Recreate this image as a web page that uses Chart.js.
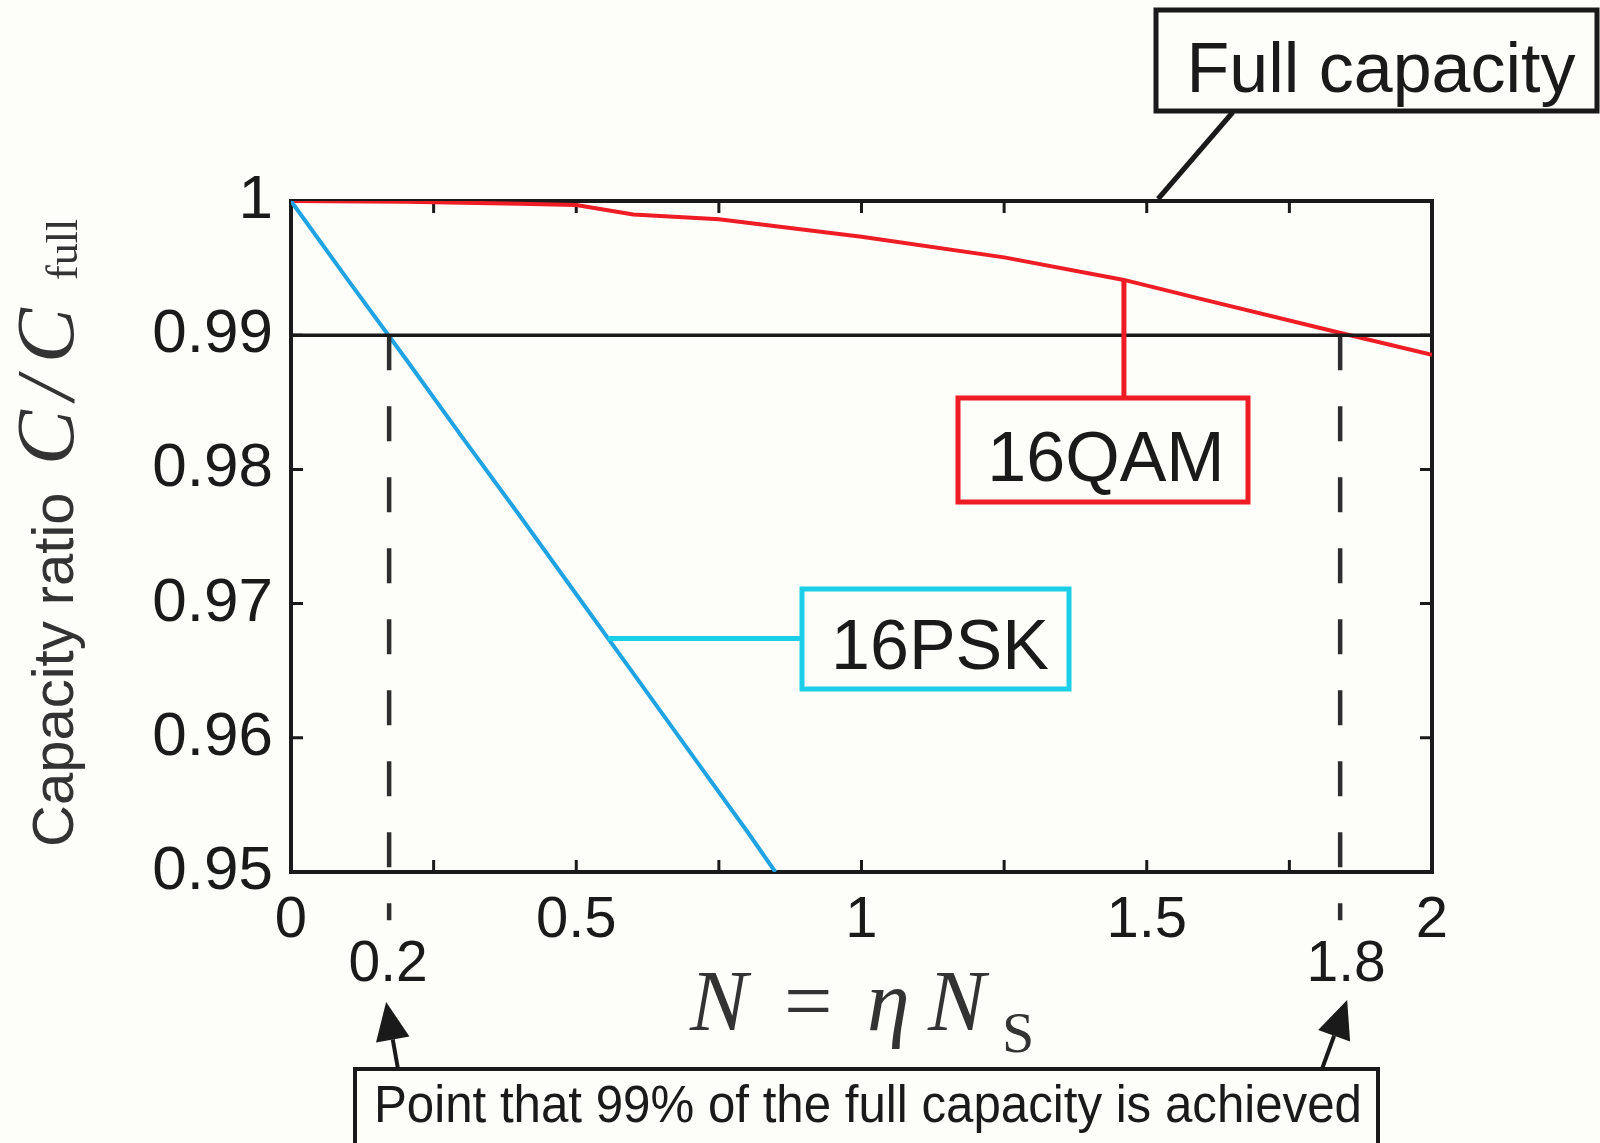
<!DOCTYPE html>
<html>
<head>
<meta charset="utf-8">
<script src="https://cdn.jsdelivr.net/npm/chart.js@4.4.0/dist/chart.umd.min.js"></script>
<style>
  html, body { margin: 0; padding: 0; background: #fdfdf9; }
  #wrap { width: 1600px; height: 1143px; }
</style>
</head>
<body>
<div id="wrap"><canvas id="capChart" width="1600" height="1143"></canvas></div>
<script>
// Tick labels shown on the axes
const xTickLabels = ['0', '0.5', '1', '1.5', '2'];
const yTickLabels = ['0.95', '0.96', '0.97', '0.98', '0.99', '1'];

// 16QAM capacity ratio vs N = eta*Ns
const qamX = [0, 0.2, 0.4, 0.5, 0.6, 0.75, 1.0, 1.25, 1.46, 1.6, 1.84, 2.0];
const qamY = [1.0, 0.99995, 0.9998, 0.9997, 0.9990, 0.99864, 0.99734, 0.9958, 0.99412, 0.99265, 0.99016, 0.98854];

// 16PSK capacity ratio
const pskX = [0, 0.1, 0.2, 0.3, 0.4, 0.5, 0.6, 0.7, 0.8, 0.849];
const pskY = [1.0, 0.9941, 0.9883, 0.9824, 0.9766, 0.9707, 0.9648, 0.9589, 0.9530, 0.95];

// 99% of full capacity and where each curve reaches it
const threshold = 0.99;
const markX = [0.172, 1.839];
const markLabels = ['0.2', '1.8'];
const markBottom = 0.9464;

const SANS = '"Liberation Sans", Arial, sans-serif';
const SERIF = '"Liberation Serif", "Times New Roman", serif';
const RED = '#ee1c24';
const BLUE = '#1fa3e3';
const CYAN = '#1ccfe8';
const INK = '#1a1a1a';

function pts(xs, ys) {
  return xs.map((x, i) => ({ x: x, y: ys[i] }));
}

function fmt(v) {
  return String(+v.toFixed(2));
}

function box(ctx, x, y, w, h, color, lw) {
  ctx.save();
  ctx.strokeStyle = color;
  ctx.lineWidth = lw;
  ctx.fillStyle = '#fdfdf9';
  ctx.fillRect(x, y, w, h);
  ctx.strokeRect(x, y, w, h);
  ctx.restore();
}

function line(ctx, x1, y1, x2, y2, color, lw) {
  ctx.save();
  ctx.strokeStyle = color;
  ctx.lineWidth = lw;
  ctx.beginPath();
  ctx.moveTo(x1, y1);
  ctx.lineTo(x2, y2);
  ctx.stroke();
  ctx.restore();
}

function arrow(ctx, x1, y1, x2, y2) {
  // shaft from (x1,y1) to tip (x2,y2)
  const a = Math.atan2(y2 - y1, x2 - x1);
  const len = 38, half = 17;
  const bx = x2 - len * Math.cos(a), by = y2 - len * Math.sin(a);
  line(ctx, x1, y1, bx, by, INK, 4);
  ctx.save();
  ctx.fillStyle = INK;
  ctx.beginPath();
  ctx.moveTo(x2, y2);
  ctx.lineTo(bx + half * Math.sin(a), by - half * Math.cos(a));
  ctx.lineTo(bx - half * Math.sin(a), by + half * Math.cos(a));
  ctx.closePath();
  ctx.fill();
  ctx.restore();
}

const decor = {
  id: 'decor',
  beforeDraw(chart) {
    const ctx = chart.ctx;
    ctx.save();
    ctx.fillStyle = '#fdfdf9';
    ctx.fillRect(0, 0, chart.width, chart.height);
    ctx.restore();
  },
  beforeDatasetsDraw(chart) {
    const ctx = chart.ctx;
    const a = chart.chartArea;
    const xs = chart.scales.x, ys = chart.scales.y;
    ctx.save();
    ctx.strokeStyle = INK;
    ctx.lineWidth = 4;
    ctx.strokeRect(a.left, a.top, a.right - a.left, a.bottom - a.top);
    ctx.lineWidth = 3;
    ctx.beginPath();
    xs.ticks.forEach(t => {
      const px = xs.getPixelForValue(t.value);
      if (px <= a.left + 1 || px >= a.right - 1) return;
      ctx.moveTo(px, a.bottom); ctx.lineTo(px, a.bottom - 12);
      ctx.moveTo(px, a.top); ctx.lineTo(px, a.top + 12);
    });
    ys.ticks.forEach(t => {
      const py = ys.getPixelForValue(t.value);
      if (py <= a.top + 1 || py >= a.bottom - 1) return;
      ctx.moveTo(a.left, py); ctx.lineTo(a.left + 12, py);
      ctx.moveTo(a.right, py); ctx.lineTo(a.right - 12, py);
    });
    ctx.stroke();
    ctx.restore();
  },
  afterDraw(chart) {
    const ctx = chart.ctx;
    const xs = chart.scales.x, ys = chart.scales.y;

    // labels under the dashed markers
    ctx.save();
    ctx.fillStyle = INK;
    ctx.font = '57px ' + SANS;
    ctx.textAlign = 'center';
    markX.forEach((mx, i) => {
      ctx.fillText(markLabels[i], xs.getPixelForValue(mx) + (i ? 6 : -1), 981);
    });
    ctx.restore();

    // arrows from the bottom note
    arrow(ctx, 398, 1069, xs.getPixelForValue(markX[0]) - 3, 1002);
    arrow(ctx, 1322, 1069, xs.getPixelForValue(markX[1]) + 7, 1000);

    // bottom note box
    box(ctx, 355, 1069, 1023, 90, INK, 4);
    ctx.save();
    ctx.fillStyle = INK;
    ctx.font = '51px ' + SANS;
    const note = 'Point that 99% of the full capacity is achieved';
    const nw = ctx.measureText(note).width;
    ctx.translate(374, 1122);
    ctx.scale(988 / nw, 1);
    ctx.fillText(note, 0, 0);
    ctx.restore();

    // Full capacity callout
    line(ctx, 1233, 112, 1158, 199, INK, 5);
    box(ctx, 1156, 10, 441, 101, INK, 5);
    ctx.save();
    ctx.fillStyle = INK;
    ctx.font = '70px ' + SANS;
    ctx.textAlign = 'center';
    ctx.fillText('Full capacity', 1381, 92);
    ctx.restore();

    // 16QAM callout
    const qx = xs.getPixelForValue(1.46);
    line(ctx, qx, ys.getPixelForValue(0.99412), qx, 400, RED, 5);
    box(ctx, 958, 398, 290, 104, RED, 5);
    ctx.save();
    ctx.fillStyle = INK;
    ctx.font = '70px ' + SANS;
    ctx.textAlign = 'center';
    ctx.fillText('16QAM', 1106, 481);
    ctx.restore();

    // 16PSK callout
    const py = ys.getPixelForValue(0.9674);
    line(ctx, xs.getPixelForValue(0.556), py, 803, py, CYAN, 5);
    box(ctx, 802, 589, 267, 100, CYAN, 5);
    ctx.save();
    ctx.fillStyle = INK;
    ctx.font = '70px ' + SANS;
    ctx.textAlign = 'center';
    ctx.fillText('16PSK', 940, 669);
    ctx.restore();

    // x axis title: N = eta N_S
    ctx.save();
    ctx.fillStyle = '#333';
    ctx.font = 'italic 86px ' + SERIF;
    ctx.fillText('N', 690, 1030);
    ctx.font = '86px ' + SERIF;
    ctx.fillText('=', 784, 1030);
    ctx.font = 'italic 86px ' + SERIF;
    ctx.fillText('\u03B7', 867, 1030);
    ctx.fillText('N', 928, 1030);
    ctx.font = '58px ' + SERIF;
    ctx.fillText('S', 1002, 1052);
    ctx.restore();

    // y axis title: Capacity ratio C/C_full
    ctx.save();
    ctx.fillStyle = '#333';
    ctx.translate(73, 847);
    ctx.rotate(-Math.PI / 2);
    ctx.font = '58px ' + SANS;
    ctx.fillText('Capacity ratio', 0, 0);
    ctx.font = 'italic 82px ' + SERIF;
    ctx.fillText('C', 382, 0);
    ctx.fillText('/', 447, 0);
    ctx.fillText('C', 484, 0);
    ctx.font = '44px ' + SERIF;
    ctx.fillText('full', 567, 4);
    ctx.restore();
  }
};

const lineStyle = { showLine: true, pointRadius: 0, pointHoverRadius: 0, fill: false, tension: 0 };

new Chart(document.getElementById('capChart').getContext('2d'), {
  type: 'scatter',
  data: {
    datasets: [
      Object.assign({ label: 'threshold', data: pts([0, 2], [threshold, threshold]), borderColor: INK, borderWidth: 3.5 }, lineStyle),
      Object.assign({ label: 'mark 0.2', data: pts([markX[0], markX[0]], [threshold, markBottom]), borderColor: '#2e2e2e', borderWidth: 4.5, borderDash: [35, 36], clip: false }, lineStyle),
      Object.assign({ label: 'mark 1.8', data: pts([markX[1], markX[1]], [threshold, markBottom]), borderColor: '#2e2e2e', borderWidth: 4.5, borderDash: [35, 36], clip: false }, lineStyle),
      Object.assign({ label: '16PSK', data: pts(pskX, pskY), borderColor: BLUE, borderWidth: 4 }, lineStyle),
      Object.assign({ label: '16QAM', data: pts(qamX, qamY), borderColor: RED, borderWidth: 4 }, lineStyle)
    ]
  },
  options: {
    responsive: false,
    animation: false,
    events: [],
    layout: { padding: { top: 201, right: 168, left: 0, bottom: 0 } },
    plugins: { legend: { display: false }, tooltip: { enabled: false } },
    scales: {
      x: {
        type: 'linear', min: 0, max: 2,
        ticks: {
          stepSize: 0.25, autoSkip: false, maxRotation: 0, padding: 14,
          color: INK, font: { family: SANS, size: 58 },
          callback: v => xTickLabels.includes(fmt(v)) ? fmt(v) : ''
        },
        grid: { display: false, drawTicks: false },
        border: { display: false },
        afterFit: s => { s.height = 271; }
      },
      y: {
        type: 'linear', min: 0.95, max: 1,
        ticks: {
          stepSize: 0.01, autoSkip: false, padding: 18,
          color: INK, font: { family: SANS, size: 62 },
          callback: v => yTickLabels.includes(fmt(v)) ? fmt(v) : ''
        },
        grid: { display: false, drawTicks: false },
        border: { display: false },
        afterFit: s => { s.width = 291; }
      }
    }
  },
  plugins: [decor]
});
</script>
</body>
</html>
